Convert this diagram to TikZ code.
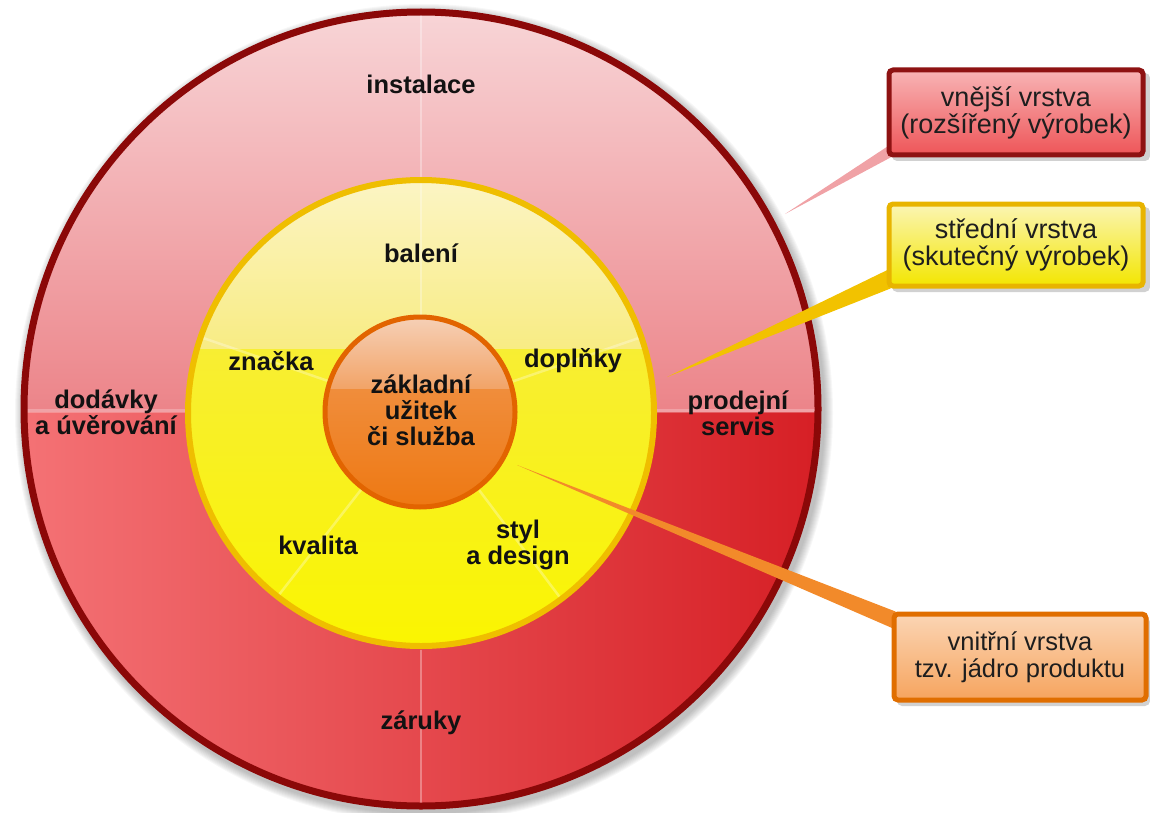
\documentclass[tikz,border=0pt]{standalone}
\usepackage{fontspec}
\setmainfont{Liberation Sans}
\usetikzlibrary{calc}
\definecolor{labelc}{HTML}{121212}
\definecolor{boxtext}{HTML}{1E1E1E}
\definecolor{outerborder}{HTML}{8B0808}
\definecolor{outerleft}{HTML}{F47275}
\definecolor{outerright}{HTML}{D61F25}
\definecolor{outerglosstop}{HTML}{F8D6D8}
\definecolor{outerglossbot}{HTML}{EC8489}
\definecolor{yelborder}{HTML}{EFBE00}
\definecolor{yeltop}{HTML}{F6EA50}
\definecolor{yelbot}{HTML}{FAF500}
\definecolor{yelglosstop}{HTML}{FCF5C8}
\definecolor{yelglossbot}{HTML}{F8EC84}
\definecolor{orborder}{HTML}{E26400}
\definecolor{ortop}{HTML}{F19A55}
\definecolor{orbot}{HTML}{EE7812}
\definecolor{orglosstop}{HTML}{F6D3BC}
\definecolor{orglossbot}{HTML}{F2A468}
\definecolor{redboxborder}{HTML}{8E1212}
\definecolor{redboxtop}{HTML}{F8B4B5}
\definecolor{redboxbot}{HTML}{EE5558}
\definecolor{yelboxborder}{HTML}{E8B400}
\definecolor{yelboxtop}{HTML}{FBF5B4}
\definecolor{yelboxbot}{HTML}{F3E600}
\definecolor{orboxborder}{HTML}{E06E00}
\definecolor{orboxtop}{HTML}{FBD5B4}
\definecolor{orboxbot}{HTML}{F6A45E}
\definecolor{redwedge}{HTML}{F0A2A6}
\definecolor{yelwedge}{HTML}{F2C200}
\definecolor{orwedge}{HTML}{F28A2A}
\pgfdeclarelayer{disc}
\pgfdeclarelayer{wedges}
\pgfsetlayers{disc,wedges,main}
\begin{document}
\begin{tikzpicture}[x=1pt,y=-1pt,
  lbl/.style={font=\fontsize{25.5}{26}\selectfont\bfseries, text=labelc, align=center, inner sep=0pt},
  callout/.style={line width=5pt, rounded corners=4pt, minimum width=254pt, inner sep=0pt,
     font=\fontsize{27}{27}\selectfont, align=center, text=boxtext},
  radial/.style={white, opacity=0.32, line width=2.5pt},
  boxshadow/.style={fill=black, opacity=0.18, rounded corners=5pt}
]
\useasboundingbox (0,0) rectangle (1150,813);
\begin{pgfonlayer}{disc}
\coordinate (c) at (421,409);
% soft shadow of the disc
\foreach \r in {1,...,9}
  \fill[black, opacity=0.03] (424,413) circle[radius={400pt+\r pt}];
% outer ring
\shade[left color=outerleft, right color=outerright] (c) circle[radius=400pt];
\begin{scope}
  \clip (c) circle[radius=400pt];
  \shade[top color=outerglosstop, bottom color=outerglossbot] (0,5) rectangle (850,411);
\end{scope}
\draw[radial] (421,12) -- (421,180);
\draw[radial] (421,650) -- (421,806);
\draw[white, opacity=0.25, line width=4pt] (22,411) -- (188,411);
\draw[white, opacity=0.25, line width=4pt] (654,411) -- (820,411);
\draw[outerborder, line width=7pt] (c) circle[radius=397pt];
% middle ring
\coordinate (m) at (421,413);
\shade[top color=yeltop, bottom color=yelbot] (m) circle[radius=235pt];
\begin{scope}
  \clip (m) circle[radius=235pt];
  \shade[top color=yelglosstop, bottom color=yelglossbot] (150,170) rectangle (700,348);
\end{scope}
\begin{scope}[shift={(m)}]
  \foreach \a in {90,161,232,307,19}
    \draw[radial, opacity=0.3] (\a:97pt) -- (\a:233pt);
\end{scope}
\draw[yelborder, line width=6pt] (m) circle[radius=233pt];
% inner core
\coordinate (k) at (420,412);
\shade[top color=ortop, bottom color=orbot] (k) circle[radius=97pt];
\begin{scope}
  \clip (k) circle[radius=97pt];
  \shade[top color=orglosstop, bottom color=orglossbot] (300,312) rectangle (540,388);
\end{scope}
\draw[orborder, line width=5pt] (k) circle[radius=95pt];
% labels
\node[lbl] (instalace) at (421,84) {instalace};
\node[lbl] (baleni) at (421,253) {balení};
\node[lbl] (znacka) at (271,361) {značka};
\node[lbl] (doplnky) at (573,361) {doplňky};
\node[lbl] (jadro) at (421,410) {základní\\užitek\\či služba};
\node[lbl] (dodavky) at (106,412) {dodávky\\a úvěrování};
\node[lbl] (servis) at (738,413) {prodejní\\servis};
\node[lbl] (kvalita) at (318,545) {kvalita};
\node[lbl] (styl) at (518,545) {styl\\a design};
\node[lbl] (zaruky) at (421,723) {záruky};
% box shadows
\fill[boxshadow] (892,73) rectangle (1150,161);
\fill[boxshadow] (892,207) rectangle (1150,292);
\fill[boxshadow] (897,617) rectangle (1150,706);
\end{pgfonlayer}
% callout boxes
\coordinate (tipred) at (785,214);
\coordinate (tipyel) at (667,377);
\coordinate (tipor) at (517,465);
\node[callout, draw=redboxborder, top color=redboxtop, bottom color=redboxbot,
      minimum height=85pt] (redbox) at (1016,112.5) {vnější vrstva\\(rozšířený výrobek)};
\node[callout, draw=yelboxborder, top color=yelboxtop, bottom color=yelboxbot,
      minimum height=82pt] (yelbox) at (1016,245) {střední vrstva\\(skutečný výrobek)};
\node[callout, draw=orboxborder, top color=orboxtop, bottom color=orboxbot,
      minimum height=86pt, minimum width=252pt, font=\fontsize{25.5}{27}\selectfont] (orbox) at (1020,657) {vnitřní vrstva\\tzv. jádro produktu};
% wedges behind the boxes
\begin{pgfonlayer}{wedges}
\fill[redwedge] ([xshift=4pt,yshift=13pt]redbox.south west) -- (tipred) -- ([xshift=4pt,yshift=0pt]redbox.south west) -- cycle;
\fill[yelwedge] ([xshift=4pt,yshift=20pt]yelbox.south west) -- (tipyel) -- ([xshift=4pt,yshift=0pt]yelbox.south west) -- cycle;
\fill[orwedge] ([xshift=4pt,yshift=0pt]orbox.north west) -- (tipor) -- ([xshift=4pt,yshift=-18pt]orbox.north west) -- cycle;
\end{pgfonlayer}
\end{tikzpicture}
\end{document}
